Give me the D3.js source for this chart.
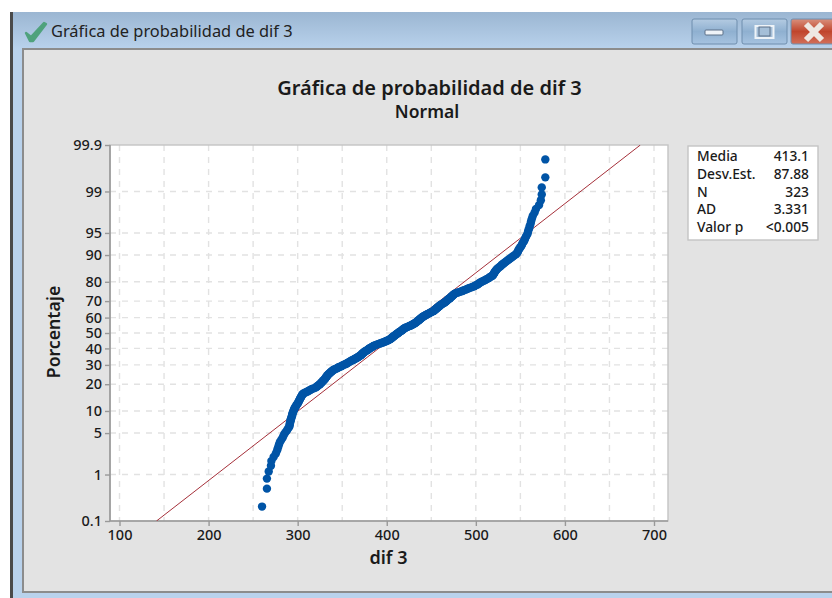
<!DOCTYPE html>
<html><head><meta charset="utf-8">
<script src="https://cdn.jsdelivr.net/npm/d3@7"></script>
<style>html,body{margin:0;padding:0;background:#fff;overflow:hidden}svg{display:block}text{font-family:"Noto Sans",sans-serif}</style>
</head><body><svg id="c" width="832" height="598"></svg>
<script>
const windowTitle = "Gráfica de probabilidad de dif 3";
const chartTitle = "Gráfica de probabilidad de dif 3";
const chartSubtitle = "Normal";
const xLabel = "dif 3";
const yLabel = "Porcentaje";
const xTicks = [100,200,300,400,500,600,700];
const xGrid = [100,150,200,250,300,350,400,450,500,550,600,650,700];
const yTicks = [0.1,1,5,10,20,30,40,50,60,70,80,90,95,99,99.9];
const statNames = ["Media","Desv.Est.","N","AD","Valor p"];
const statValues = ["413.1","87.88","323","3.331","<0.005"];
const fitMean = 413.1, fitSd = 87.88;
const dif3 = [260,265.5,265.5,267.5,270,270.5,273,275.5,277,278,
279,280,281.5,283,284,285,286.5,288,289,290.5,
291,291,291.5,292,292,292.7,293,293.5,294,294,294.5,295,
295.5,296,296.5,297,298,298.5,299,300,
300.5,301,301.5,302,302.5,303,303.5,304,304.5,305,305.5,306.5,
308,310,311.5,313,314.5,316,318,320,
321,322,323,324,325,325.6,326.5,327,328,328.5,329,330,
330.5,331,331.5,332,332.5,333,333.5,334,335,335.5,336,337,337.5,338.5,339,340,
341,342.5,344,345,346,347.5,349,350,351,352.5,354,355,
356,357,358,359,360,361.5,362.5,363.5,364.5,365.5,366.5,367.5,
368.5,369,370,371,371.5,372,372.5,373,374,374.5,375,376,
377,378,379,379.5,380,381,382,383,384,385,385.5,386.5,
388,389.5,391,392.5,394,395.5,397,398.5,399.5,401,402,403,
404,404.5,405,406,406.5,407,408,408.5,409,410,410.5,411,
412,413,413.5,414,415,416,416.5,417,418,418.5,419,420,
421,422,423.5,424.5,425.5,427,428,429,430,431,432,432.6,
433.5,434,434.5,435,436,436.5,437,438,438.5,439,440,440.5,
441.5,442.5,443.5,444.5,445.5,446.5,447.5,448.5,449.5,450.5,452,453,
453.5,454,455,455.5,456,457,457.5,458,459,459.5,460,461,
462,463,464,465,465.5,466.5,467,468,468.5,469,470,471,
471.5,472,473,473.5,474,475,475.5,476.5,
478,480,482,484,485.5,487,489,490.5,492,494,496,498,
499,500.5,502,503,504,505,506.5,508,
509.5,511,512.5,514,515,516,517.5,519,
519.5,520,520.5,521,521.5,522,523,523.6,
524.5,525.5,527,528,529,530,531.5,532.6,
534,535.5,537,538.5,540,541.5,543,545,
546,547,547.5,548,549,550,551,551.7,
552.5,553.5,554.5,555,556,557,
558,558.5,559,560,
560.5,561.5,562,563,
564,566,567.5,
571,573,574,574,578,578];

// inverse normal CDF (Acklam), turns a percentage into the probit axis position
function probit(p){
  const a=[-39.69683028665376,220.9460984245205,-275.9285104469687,138.3577518672690,-30.66479806614716,2.506628277459239],
        b=[-54.47609879822406,161.5858368580409,-155.6989798598866,66.80131188771972,-13.28068155288572],
        c=[-0.007784894002430293,-0.3223964580411365,-2.400758277161838,-2.549732539343734,4.374664141464968,2.938163982698783],
        d=[0.007784695709041462,0.3224671290700398,2.445134137142996,3.754408661907416];
  const pl=0.02425;
  if(p<pl){const q=Math.sqrt(-2*Math.log(p));return (((((c[0]*q+c[1])*q+c[2])*q+c[3])*q+c[4])*q+c[5])/((((d[0]*q+d[1])*q+d[2])*q+d[3])*q+1);}
  if(p>1-pl){const q=Math.sqrt(-2*Math.log(1-p));return -(((((c[0]*q+c[1])*q+c[2])*q+c[3])*q+c[4])*q+c[5])/((((d[0]*q+d[1])*q+d[2])*q+d[3])*q+1);}
  const q=p-0.5,r=q*q;
  return (((((a[0]*r+a[1])*r+a[2])*r+a[3])*r+a[4])*r+a[5])*q/(((((b[0]*r+b[1])*r+b[2])*r+b[3])*r+b[4])*r+1);
}

const svg = d3.select("#c");
const L=110,R=668,T=145,B=521;
const x = d3.scaleLinear().domain([100,700]).range([119.5,654]);
const zScale = d3.scaleLinear().domain([probit(0.001),probit(0.999)]).range([B,T]);
const y = pct => zScale(probit(pct/100));

// window chrome
const defs = svg.append("defs");
const tg = defs.append("linearGradient").attr("id","tb").attr("x1",0).attr("x2",0).attr("y1",0).attr("y2",1);
tg.append("stop").attr("offset",0).attr("stop-color","#9bb6d2");
tg.append("stop").attr("offset",1).attr("stop-color","#b9d2ec");
const bg = defs.append("linearGradient").attr("id","btn").attr("x1",0).attr("x2",0).attr("y1",0).attr("y2",1);
bg.append("stop").attr("offset",0).attr("stop-color","#b4cbe2");
bg.append("stop").attr("offset",0.5).attr("stop-color","#8fb0d0");
bg.append("stop").attr("offset",1).attr("stop-color","#a6c3e0");
const rg = defs.append("linearGradient").attr("id","cls").attr("x1",0).attr("x2",0).attr("y1",0).attr("y2",1);
rg.append("stop").attr("offset",0).attr("stop-color","#d9907c");
rg.append("stop").attr("offset",0.5).attr("stop-color","#c0452c");
rg.append("stop").attr("offset",1).attr("stop-color","#d2705a");

svg.append("rect").attr("x",10).attr("y",12).attr("width",822).attr("height",586).attr("fill","#b9d2ec");
svg.append("rect").attr("x",13).attr("y",12).attr("width",819).attr("height",37).attr("fill","url(#tb)");
svg.append("rect").attr("x",10).attr("y",12).attr("width",3).attr("height",586).attr("fill","#4a4a4a");
svg.append("rect").attr("x",23).attr("y",49).attr("width",811).attr("height",543).attr("fill","#e3e3e3").attr("stroke","#8c8c8c").attr("stroke-width",2);
svg.append("path").attr("d","M26 33 L31 37 L44 23 L46 24 L33 41 L30 41 Z").attr("fill","#4fa27c").attr("stroke","#4fa27c").attr("stroke-width",2.4).attr("stroke-linejoin","round");
svg.append("text").attr("x",51).attr("y",37).attr("font-size",16.4).attr("fill","#222").text(windowTitle);

const btns=[[692,45,"url(#btn)"],[742,45,"url(#btn)"],[791,45,"url(#cls)"]];
svg.selectAll("rect.btn").data(btns).join("rect").attr("class","btn")
  .attr("x",d=>d[0]).attr("y",19).attr("width",d=>d[1]).attr("height",25).attr("rx",2)
  .attr("fill",d=>d[2]).attr("stroke","#6f8eae");
svg.append("rect").attr("x",705).attr("y",30).attr("width",18).attr("height",5).attr("rx",1).attr("fill","#eef3f8").attr("stroke","#5c7088");
svg.append("rect").attr("x",755.5).attr("y",26).attr("width",18).attr("height",12).attr("fill","#a5bfd8").attr("stroke","#eef3f8").attr("stroke-width",2);
svg.append("rect").attr("x",759).attr("y",27).attr("width",11).attr("height",9).attr("fill","none").attr("stroke","#5c7088");
svg.append("path").attr("d","M806 24 L822 40 M822 24 L806 40").attr("stroke","#eee8e2").attr("stroke-width",6);

// titles
svg.append("text").attr("x",429.5).attr("y",95).attr("text-anchor","middle").attr("font-size",20).attr("font-weight",600).attr("fill","#1a1a1a").text(chartTitle);
svg.append("text").attr("x",427).attr("y",118).attr("text-anchor","middle").attr("font-size",17.5).attr("font-weight",600).attr("fill","#1a1a1a").text(chartSubtitle);

// plot
svg.append("rect").attr("x",L).attr("y",T).attr("width",R-L).attr("height",B-T).attr("fill","#fff");
svg.selectAll("line.gx").data(xGrid).join("line").attr("class","gx")
  .attr("x1",d=>x(d)).attr("x2",d=>x(d)).attr("y1",T).attr("y2",B)
  .attr("stroke","#e2e2e2").attr("stroke-width",1.4).attr("stroke-dasharray","6 6");
svg.selectAll("line.gy").data(yTicks.slice(1,-1)).join("line").attr("class","gy")
  .attr("x1",L).attr("x2",R).attr("y1",d=>y(d)).attr("y2",d=>y(d))
  .attr("stroke","#e2e2e2").attr("stroke-width",1.4).attr("stroke-dasharray","6 6");
svg.append("rect").attr("x",L).attr("y",T).attr("width",R-L).attr("height",B-T).attr("fill","none").attr("stroke","#c4c4c4").attr("stroke-width",1.4);

const xAxis = d3.axisBottom(x).tickValues(xTicks).tickSize(5).tickPadding(4).tickFormat(d3.format("d"));
const gx = svg.append("g").attr("transform",`translate(0,${B})`).call(xAxis);
const yAxis = d3.axisLeft(zScale).tickValues(yTicks.map(p=>probit(p/100))).tickSize(5).tickPadding(3).tickFormat((d,i)=>yTicks[i]);
const gy = svg.append("g").attr("transform",`translate(${L},0)`).call(yAxis);
[gx,gy].forEach(g=>{
  g.select(".domain").remove();
  g.selectAll("line").attr("stroke","#999").attr("stroke-width",1.4);
  g.selectAll("text").attr("font-size",14.5).attr("font-weight",500).attr("fill","#1a1a1a").style("font-family",'"Noto Sans",sans-serif');
});
svg.append("line").attr("x1",L).attr("x2",L).attr("y1",T).attr("y2",B).attr("stroke","#999").attr("stroke-width",1.6);
svg.append("line").attr("x1",L).attr("x2",R).attr("y1",B).attr("y2",B).attr("stroke","#999").attr("stroke-width",1.6);

// fit line
defs.append("clipPath").attr("id","pc").append("rect").attr("x",L).attr("y",T).attr("width",R-L).attr("height",B-T);
const fitZ = zScale.domain();
const fitLine = d3.line().x(z=>x(fitMean+z*fitSd)).y(z=>zScale(z));
svg.append("path").datum(fitZ).attr("d",fitLine).attr("fill","none").attr("stroke","#a5303a").attr("stroke-width",1).attr("clip-path","url(#pc)");

// points: Minitab median-rank plotting position
const n = dif3.length;
svg.append("g").selectAll("circle").data(dif3).join("circle")
  .attr("cx",d=>x(d)).attr("cy",(d,i)=>y((i+1-0.3)/(n+0.4)*100)).attr("r",4.2).attr("fill","#0054a6");

// axis titles
svg.append("text").attr("x",388.5).attr("y",564).attr("text-anchor","middle").attr("font-size",18).attr("font-weight",600).attr("fill","#1a1a1a").text(xLabel);
svg.append("text").attr("transform","translate(60,332) rotate(-90)").attr("text-anchor","middle").attr("font-size",17.7).attr("font-weight",600).attr("fill","#1a1a1a").text(yLabel);

// stats box
svg.append("rect").attr("x",688).attr("y",146).attr("width",130).attr("height",94).attr("fill","#fff").attr("stroke","#c4c4c4").attr("stroke-width",1.4);
const rowY = d3.scalePoint().domain(statNames).range([161,232]);
svg.selectAll("text.sn").data(statNames).join("text").attr("class","sn").attr("x",697).attr("y",d=>rowY(d)).attr("font-size",13.8).attr("font-weight",500).attr("fill","#1a1a1a").text(d=>d);
svg.selectAll("text.sv").data(statValues).join("text").attr("class","sv").attr("x",809).attr("y",(d,i)=>rowY(statNames[i])).attr("text-anchor","end").attr("font-size",13.8).attr("font-weight",500).attr("fill","#1a1a1a").text(d=>d);
</script></body></html>
